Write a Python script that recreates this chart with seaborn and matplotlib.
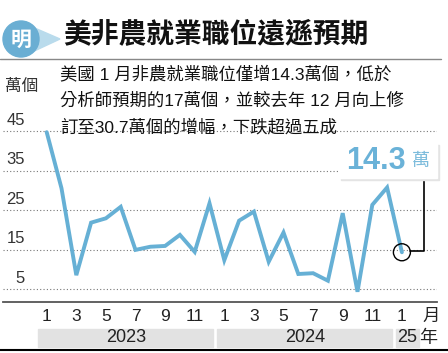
import matplotlib
matplotlib.use("Agg")
import matplotlib.pyplot as plt
import seaborn as sns
import pandas as pd
from matplotlib.patches import Rectangle, Ellipse, Polygon
from matplotlib.lines import Line2D

# ---------------- data ----------------
months = list(range(1, 13)) * 2 + [1]
years = [2023] * 12 + [2024] * 12 + [2025]
payrolls = [44.7, 30.5, 8.5, 21.8, 22.9, 25.8, 14.9, 15.7, 15.9, 18.7, 14.4, 26.7,
            12.3, 22.3, 24.6, 11.9, 19.3, 8.8, 9.0, 7.1, 24.2, 4.3, 26.3, 30.7,
            14.3]
yticks = [5, 15, 25, 35, 45]
title = "美非農就業職位遠遜預期"
subtitle = ["美國 1 月非農就業職位僅增14.3萬個，低於",
            "分析師預期的17萬個，並較去年 12 月向上修",
            "訂至30.7萬個的增幅，下跌超過五成"]
unit_label = "萬個"
year_labels = ["2023", "2024"]
callout_value = "14.3"
callout_unit = "萬"

df = pd.DataFrame({"idx": range(len(payrolls)), "value": payrolls,
                   "month": months, "year": years})

# ---------------- style ----------------
sns.set_theme(style="white")
FONT = ["Liberation Sans", "Noto Sans CJK TC", "DejaVu Sans"]
plt.rcParams["font.family"] = FONT

W, H = 448, 353
fig = plt.figure(figsize=(W / 100, H / 100), dpi=100)
fig.patch.set_facecolor("white")

def fx(x):
    return x / W

def fy(y):
    return 1 - y / H

LINE_C = "#66b0d5"

# axes: px x 3..437, y 120..302
ax = fig.add_axes([fx(3), fy(302), fx(437) - fx(3), fy(120) - fy(302)])
ax.set_facecolor("none")
x0_px, dx_px = 46.7, 14.8
ax.set_xlim((3 - x0_px) / dx_px, (437 - x0_px) / dx_px)
v = lambda py: 25 - (py - 210) / 3.95
ax.set_ylim(v(302), v(120))

sns.lineplot(data=df, x="idx", y="value", ax=ax, color=LINE_C, linewidth=2.8,
             solid_joinstyle="miter", zorder=3)

for t in yticks:
    ax.axhline(t, color="#777777", linewidth=0.8, linestyle=(0, (1, 2)), zorder=1)
    ax.annotate(str(t), xy=((25 - 3) / 434, t), xycoords=("axes fraction", "data"),
                xytext=(0, 2.5), textcoords="offset points", ha="right", va="bottom",
                fontsize=12, color="#333333")
ax.set_yticks([])
ax.set_ylabel("")
ax.set_xlabel("")

for s in ["top", "left", "right"]:
    ax.spines[s].set_visible(False)
ax.spines["bottom"].set_color("#555555")
ax.spines["bottom"].set_linewidth(1.3)

tick_pos = list(range(len(payrolls) + 1))
tick_lab = [str(m) if m % 2 == 1 else "" for m in months] + [""]
ax.set_xticks(tick_pos)
ax.set_xticklabels(tick_lab, fontsize=12.5, color="#222222")
ax.tick_params(axis="x", direction="out", length=3, width=1, color="#555555", pad=2)
ax.annotate("月", xy=(len(payrolls) + 1, 0), xycoords=("data", "axes fraction"),
            xytext=(0, -5), textcoords="offset points", ha="center", va="top",
            fontsize=12.5, color="#222222")

# circle on last point and connector
n = len(payrolls)
ax.scatter([n - 1], [payrolls[-1]], s=150, facecolors="none", edgecolors="black",
           linewidths=1.0, zorder=4, clip_on=False)
fig.add_artist(Line2D([fx(410), fx(424), fx(424)], [fy(250.5), fy(250.5), fy(178)],
                      color="black", linewidth=1.2))

# callout box
fig.add_artist(Rectangle((fx(341), fy(180)), fx(98), fy(0) - fy(35), color="#e4e4e4", zorder=5))
fig.add_artist(Rectangle((fx(339), fy(178)), fx(98), fy(0) - fy(35), color="white", zorder=6))
fig.text(fx(376), fy(161), callout_value, fontsize=22, fontweight="bold", color="#6ab2d8",
         ha="center", va="center", family=FONT, zorder=7)
fig.text(fx(421), fy(161), callout_unit, fontsize=13, color="#7dbcdc", ha="center",
         va="center", family=["Noto Sans CJK TC"], zorder=7)

# title area
fig.add_artist(Polygon([[fx(30), fy(26)], [fx(60), fy(39)], [fx(30), fy(53)]],
                       closed=True, color="#b9dbec", zorder=1))
fig.add_artist(Ellipse((fx(21), fy(39)), 36 / W, 36 / H, color="#6aaed3", zorder=2,
                       transform=fig.transFigure))
fig.text(fx(21), fy(39), "明", fontsize=15, fontweight="bold", color="white",
         ha="center", va="center", family=["Noto Sans CJK TC"], style="italic", zorder=3)
fig.text(fx(63), fy(35), title, fontsize=20, fontweight="bold", color="#111111",
         ha="left", va="center", family=["Noto Sans CJK TC"])
fig.add_artist(Line2D([0, fx(441)], [fy(59), fy(59)], color="#888888", linewidth=1.0))

# unit label
fig.text(fx(5), fy(86), unit_label, fontsize=12, color="#333333", ha="left", va="center",
         family=["Noto Sans CJK TC"])

# subtitle
for i, line in enumerate(subtitle):
    fig.text(fx(60), fy(75 + i * 26), line, fontsize=12.5, color="#111111", ha="left",
             va="center", family=FONT)

# year bars
fig.add_artist(Rectangle((fx(38), fy(347)), fx(213 - 38), fy(0) - fy(18), color="#e2e2e2"))
fig.add_artist(Rectangle((fx(217), fy(347)), fx(392 - 217), fy(0) - fy(18), color="#e2e2e2"))
fig.add_artist(Rectangle((fx(396), fy(347)), fx(419 - 396), fy(0) - fy(18), color="#e2e2e2"))
fig.text(fx(126), fy(338), year_labels[0], fontsize=13, color="#222222", ha="center", va="center")
fig.text(fx(305), fy(338), year_labels[1], fontsize=13, color="#222222", ha="center", va="center")
fig.text(fx(407.5), fy(338), "25", fontsize=13, color="#222222", ha="center", va="center")
fig.text(fx(428), fy(338), "年", fontsize=13, color="#222222", ha="center", va="center",
         family=["Noto Sans CJK TC"])
fig.add_artist(Line2D([0, 1], [fy(350), fy(350)], color="black", linewidth=1.5))

fig.savefig("out.png", dpi=100, facecolor="white")
